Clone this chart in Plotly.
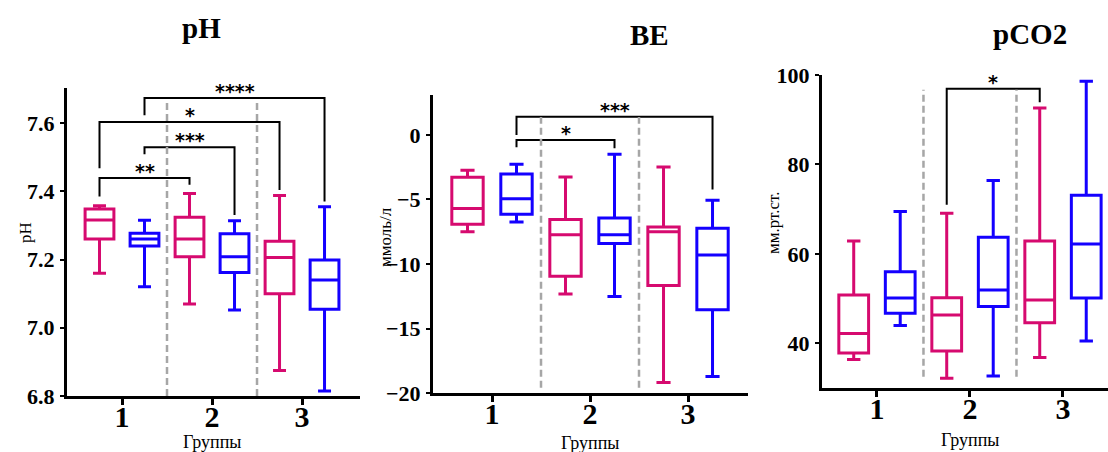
import plotly.graph_objects as go

# ---------------- data ----------------
groups = [1, 2, 3]
series_names = ["A", "B"]
colors = ["#d60a6f", "#1400ff"]

# pH
ph_min = [[7.16, 7.07, 6.875], [7.12, 7.052, 6.815]]
ph_q1 = [[7.26, 7.208, 7.10], [7.24, 7.162, 7.054]]
ph_med = [[7.316, 7.26, 7.206], [7.26, 7.208, 7.14]]
ph_q3 = [[7.348, 7.324, 7.254], [7.277, 7.276, 7.199]]
ph_max = [[7.358, 7.394, 7.388], [7.315, 7.314, 7.355]]

# BE
be_min = [[-7.51, -12.33, -19.18], [-6.74, -12.51, -18.72]]
be_q1 = [[-6.92, -10.95, -11.67], [-6.15, -8.41, -13.54]]
be_med = [[-5.69, -7.74, -7.51], [-4.95, -7.74, -9.31]]
be_q3 = [[-3.28, -6.56, -7.13], [-3.03, -6.44, -7.23]]
be_max = [[-2.74, -3.26, -2.49], [-2.26, -1.49, -5.05]]

# pCO2
pc_min = [[36.4, 32.2, 36.8], [44.0, 32.7, 40.5]]
pc_q1 = [[37.8, 38.3, 44.6], [46.7, 48.2, 50.1]]
pc_med = [[42.2, 46.3, 49.7], [50.1, 51.9, 62.2]]
pc_q3 = [[50.8, 50.2, 62.9], [56.0, 63.7, 73.1]]
pc_max = [[62.9, 69.1, 92.6], [69.5, 76.4, 98.6]]

# significance brackets: (x_left, x_right, y_bar, y_left_end, y_right_end, label)
ph_sig = [
    (0.75, 1.75, 7.439, 7.385, 7.419, "**"),
    (1.25, 2.25, 7.529, 7.509, 7.331, "***"),
    (0.75, 2.75, 7.603, 7.468, 7.404, "*"),
    (1.25, 3.25, 7.674, 7.623, 7.370, "****"),
]
be_sig = [
    (1.25, 2.25, -0.38, -0.95, -1.03, "*"),
    (1.25, 3.25, 1.41, 0.0, -4.23, "***"),
]
pc_sig = [
    (1.75, 2.75, 96.9, 71.0, 93.9, "*"),
]

titles = ["pH", "BE", "pCO2"]
y_titles = ["pH", "ммоль/л", "мм.рт.ст."]
x_title = "Группы"
ph_ticks = [6.8, 7.0, 7.2, 7.4, 7.6]
be_ticks = [-20, -15, -10, -5, 0]
pc_ticks = [40, 60, 80, 100]

# ---------------- layout geometry ----------------
W, H = 1108, 452
panels = [
    dict(data=(ph_min, ph_q1, ph_med, ph_q3, ph_max), sig=ph_sig, ticks=ph_ticks,
         fmt=".1f", xpx=(67, 360), ypx=(88, 396), xr=[0.389, 3.644], yr=[6.8, 7.703],
         dash=(6.8, 7.67), title_xy=(201, 28), ytitle_xy=(25, 233), xtitle_xy=(212, 442)),
    dict(data=(be_min, be_q1, be_med, be_q3, be_max), sig=be_sig, ticks=be_ticks,
         fmt="d", xpx=(433, 748), ypx=(95, 393), xr=[0.398, 3.612], yr=[-20, 3.1],
         dash=(-19.6, 1.4), title_xy=(649, 35), ytitle_xy=(385, 237), xtitle_xy=(590, 443)),
    dict(data=(pc_min, pc_q1, pc_med, pc_q3, pc_max), sig=pc_sig, ticks=pc_ticks,
         fmt="d", xpx=(822, 1108), ypx=(75, 388), xr=[0.409, 3.484], yr=[30, 100],
         dash=(32.5, 96.7), title_xy=(1030, 34), ytitle_xy=(773, 223), xtitle_xy=(970, 440)),
]
offsets = [-0.25, 0.25]
serif = "Liberation Serif"

fig = go.Figure()
annotations = []
shapes = []
layout = dict(width=W, height=H,
              margin=dict(l=0, r=0, t=0, b=0, pad=0, autoexpand=False),
              paper_bgcolor="white", plot_bgcolor="white", showlegend=False,
              boxmode="overlay")

for i, p in enumerate(panels):
    n = "" if i == 0 else str(i + 1)
    xa, ya = "x" + n, "y" + n
    mn, q1, md, q3, mx = p["data"]
    for s in range(2):
        fig.add_trace(go.Box(
            x=[g + offsets[s] for g in groups],
            lowerfence=mn[s], q1=q1[s], median=md[s], q3=q3[s], upperfence=mx[s],
            width=0.32, whiskerwidth=0.45,
            line=dict(color=colors[s], width=3), fillcolor="rgba(0,0,0,0)",
            name=series_names[s], xaxis=xa, yaxis=ya, hoverinfo="skip"))
    # significance brackets
    for (xl, xr_, yb, yl, yr_, lab) in p["sig"]:
        fig.add_trace(go.Scatter(
            x=[xl, xl, xr_, xr_], y=[yl, yb, yb, yr_], mode="lines",
            line=dict(color="black", width=2), xaxis=xa, yaxis=ya,
            hoverinfo="skip", cliponaxis=False))
        annotations.append(dict(x=(xl + xr_) / 2, y=yb, xref=xa, yref=ya, text="<b>" + lab + "</b>",
                                showarrow=False, yanchor="bottom", yshift=-5, borderpad=0,
                                font=dict(family="DejaVu Sans", size=19, color="black")))
    # dashed separators
    for xs in [1.5, 2.5]:
        shapes.append(dict(type="line", xref=xa, yref=ya, x0=xs, x1=xs,
                           y0=p["dash"][0], y1=p["dash"][1],
                           line=dict(color="#a6a6a6", width=2.5, dash="7px,4px")))
    x0, x1 = p["xpx"]
    y0, y1 = p["ypx"]
    layout["xaxis" + n] = dict(
        domain=[x0 / W, x1 / W], range=p["xr"], anchor=ya,
        tickvals=groups, ticktext=[str(g) for g in groups],
        showline=True, linecolor="black", linewidth=3, ticks="outside",
        ticklen=6, tickwidth=3, tickcolor="black", showgrid=False, zeroline=False,
        tickfont=dict(family=serif, size=30, color="black", weight="bold"),
        ticklabelstandoff=-14)
    layout["yaxis" + n] = dict(
        domain=[1 - y1 / H, 1 - y0 / H], range=p["yr"], anchor=xa,
        tickvals=p["ticks"], tickformat=p["fmt"],
        showline=True, linecolor="black", linewidth=3, ticks="outside",
        ticklen=4, tickwidth=2, tickcolor="black", showgrid=False, zeroline=False,
        tickfont=dict(family=serif, size=22, color="black", weight="bold"),
        ticklabelstandoff=1)
    # titles
    tx, ty = p["title_xy"]
    annotations.append(dict(x=tx / W, y=1 - ty / H, xref="paper", yref="paper",
                            text="<b>" + titles[i] + "</b>", showarrow=False,
                            xanchor="center", yanchor="middle",
                            font=dict(family=serif, size=29, color="black")))
    yx, yy = p["ytitle_xy"]
    annotations.append(dict(x=yx / W, y=1 - yy / H, xref="paper", yref="paper",
                            text=y_titles[i], showarrow=False, textangle=-90,
                            xanchor="center", yanchor="middle",
                            font=dict(family=serif, size=17, color="black")))
    xx, xy = p["xtitle_xy"]
    annotations.append(dict(x=xx / W, y=1 - xy / H, xref="paper", yref="paper",
                            text=x_title, showarrow=False,
                            xanchor="center", yanchor="middle",
                            font=dict(family=serif, size=18, color="black")))

layout["annotations"] = annotations
layout["shapes"] = shapes
fig.update_layout(**layout)
fig.write_html("out.html")
